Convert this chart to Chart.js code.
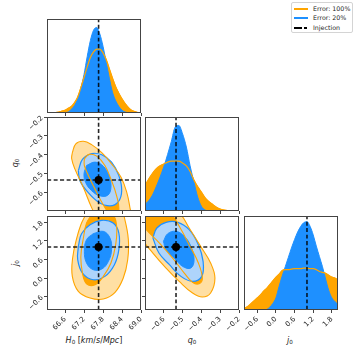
<!DOCTYPE html>
<html>
<head>
<meta charset="utf-8">
<script src="https://cdn.jsdelivr.net/npm/chart.js@4/dist/chart.umd.min.js"></script>
<style>
  body { margin: 0; width: 357px; height: 357px; overflow: hidden; position: relative; background: #fff; font-family: "DejaVu Sans", sans-serif; }
  canvas { position: absolute; }
  .ttl { position: absolute; font-size: 8px; color: #222; white-space: nowrap; transform: translate(-50%, -50%); line-height: 1; }
  .ttl.rot { transform: translate(-50%, -50%) rotate(-90deg); }
  .ttl sub { font-size: 70%; vertical-align: -0.25em; line-height: 0; }
  #legend { position: absolute; left: 291px; top: 2px; width: 62px; height: 31px; border: 1px solid #d4d4d4; border-radius: 2px; background: #fff; box-sizing: border-box; }
  #legend .row { position: absolute; left: 0; height: 9px; font-size: 6.3px; color: #222; white-space: nowrap; }
  #legend .sw { position: absolute; left: 2px; top: 3.5px; width: 14px; height: 2px; }
  #legend .txt { position: absolute; left: 21px; top: 0.5px; line-height: 8px; }
</style>
</head>
<body>
<div id="legend">
  <div class="row" style="top:1.5px"><span class="sw" style="background:#ffa500"></span><span class="txt">Error: 100%</span></div>
  <div class="row" style="top:10.5px"><span class="sw" style="background:#1e90ff"></span><span class="txt">Error: 20%</span></div>
  <div class="row" style="top:20px"><span class="sw" style="width:8px;background:#000"></span><span class="sw" style="left:12px;width:3px;background:#000"></span><span class="txt">Injection</span></div>
</div>
<div class="ttl" style="left:94px;top:341px"><i>H</i><sub>0</sub> [<i>km</i>/<i>s</i>/<i>Mpc</i>]</div>
<div class="ttl" style="left:192px;top:341px"><i>q</i><sub>0</sub></div>
<div class="ttl" style="left:290px;top:341px"><i>j</i><sub>0</sub></div>
<div class="ttl rot" style="left:16px;top:163px"><i>q</i><sub>0</sub></div>
<div class="ttl rot" style="left:16px;top:263px"><i>j</i><sub>0</sub></div>
<script>
// injected values and axis limits
const H0_TRUE = 67.66;
const Q0_TRUE = -0.535;
const J0_TRUE = 1.0;
const H0_LIM = [66.03, 69.0];
const Q0_LIM = [-0.7, -0.2];
const J0_LIM = [-1.03, 2.0];
const H0_TICKS = [66.6, 67.2, 67.8, 68.4, 69.0];
const Q0_TICKS = [-0.6, -0.5, -0.4, -0.3, -0.2];
const J0_TICKS = [-0.6, 0.0, 0.6, 1.2, 1.8];

// 1D marginals (peak-normalised heights)
const H0_X = [66.0, 66.1, 66.2, 66.3, 66.4, 66.5, 66.6, 66.7, 66.8, 66.9, 67.0, 67.1, 67.2, 67.3, 67.4, 67.5, 67.6, 67.7, 67.8, 67.9, 68.0, 68.1, 68.2, 68.3, 68.4, 68.5, 68.6, 68.7, 68.8, 68.9, 69.0];
const H0_ERR100 = [0, 0.001, 0.003, 0.005, 0.01, 0.02, 0.03, 0.05, 0.07, 0.11, 0.17, 0.27, 0.38, 0.49, 0.59, 0.65, 0.68, 0.68, 0.64, 0.57, 0.47, 0.37, 0.28, 0.21, 0.15, 0.10, 0.06, 0.03, 0.015, 0.005, 0];
const H0_ERR20 = [0, 0, 0, 0, 0, 0.002, 0.005, 0.01, 0.04, 0.08, 0.15, 0.26, 0.41, 0.60, 0.77, 0.88, 0.91, 0.84, 0.71, 0.54, 0.37, 0.22, 0.13, 0.07, 0.03, 0.01, 0.004, 0, 0, 0, 0];

const Q0_X = [-0.70, -0.68, -0.66, -0.64, -0.62, -0.60, -0.58, -0.56, -0.54, -0.52, -0.50, -0.48, -0.46, -0.44, -0.42, -0.40, -0.38, -0.36, -0.34, -0.32, -0.30, -0.28, -0.26, -0.24, -0.22, -0.20];
const Q0_ERR100 = [0.27, 0.34, 0.40, 0.45, 0.48, 0.50, 0.52, 0.53, 0.53, 0.53, 0.51, 0.48, 0.42, 0.33, 0.26, 0.20, 0.14, 0.10, 0.07, 0.04, 0.02, 0.01, 0.005, 0.002, 0, 0];
const Q0_ERR20 = [0.07, 0.11, 0.17, 0.26, 0.36, 0.47, 0.60, 0.74, 0.89, 0.91, 0.82, 0.68, 0.48, 0.31, 0.15, 0.05, 0.01, 0, 0, 0, 0, 0, 0, 0, 0, 0];

const J0_X = [-1.0, -0.9, -0.8, -0.7, -0.6, -0.5, -0.4, -0.3, -0.2, -0.1, 0.0, 0.1, 0.2, 0.3, 0.4, 0.5, 0.6, 0.7, 0.8, 0.9, 1.0, 1.1, 1.2, 1.3, 1.4, 1.5, 1.6, 1.7, 1.8, 1.9, 2.0];
const J0_ERR100 = [0.02, 0.04, 0.07, 0.10, 0.13, 0.16, 0.20, 0.23, 0.27, 0.31, 0.35, 0.38, 0.42, 0.43, 0.43, 0.435, 0.44, 0.44, 0.44, 0.445, 0.445, 0.44, 0.44, 0.43, 0.41, 0.40, 0.39, 0.37, 0.35, 0.34, 0.32];
const J0_ERR20 = [0, 0, 0, 0, 0, 0, 0, 0.005, 0.03, 0.07, 0.13, 0.25, 0.36, 0.46, 0.56, 0.66, 0.75, 0.83, 0.89, 0.93, 0.94, 0.89, 0.80, 0.68, 0.57, 0.46, 0.33, 0.21, 0.13, 0.09, 0.06];

// 2D contours (1 and 2 sigma), [x, y] in data units
const H0Q0_ERR100_2S = [[66.83, -0.39], [66.94, -0.343], [67.18, -0.329], [67.44, -0.347], [67.76, -0.39], [68.07, -0.449], [68.37, -0.521], [68.55, -0.601], [68.65, -0.682], [68.72, -0.763], [68.49, -0.816], [68.07, -0.808], [67.65, -0.745], [67.44, -0.682], [67.18, -0.575], [66.91, -0.476], [66.81, -0.422]];
const H0Q0_ERR100_1S = [[67.21, -0.422], [67.36, -0.399], [67.60, -0.408], [67.86, -0.458], [68.07, -0.539], [68.23, -0.619], [68.30, -0.691], [68.20, -0.727], [68.02, -0.718], [67.78, -0.659], [67.55, -0.584], [67.34, -0.512], [67.21, -0.458]];
const H0Q0_ERR20_2S = [[67.02, -0.485], [67.15, -0.426], [67.44, -0.395], [67.76, -0.401], [68.07, -0.44], [68.30, -0.512], [68.39, -0.592], [68.28, -0.652], [68.02, -0.673], [67.65, -0.652], [67.28, -0.592], [67.07, -0.539]];
const H0Q0_ERR20_1S = [[67.28, -0.458], [67.55, -0.44], [67.81, -0.462], [67.99, -0.512], [68.05, -0.575], [67.95, -0.616], [67.70, -0.619], [67.44, -0.592], [67.25, -0.548], [67.20, -0.503]];

const H0J0_ERR100_2S = [[67.23, 1.99], [67.34, 2.31], [67.86, 2.53], [68.34, 2.31], [68.49, 1.88], [68.60, 1.24], [68.58, 0.59], [68.44, 0.0], [68.18, -0.46], [67.81, -0.677], [67.39, -0.645], [67.02, -0.43], [66.83, 0.054], [66.84, 0.645], [66.97, 1.29], [67.10, 1.72]];
const H0J0_ERR100_1S = [[67.44, 2.04], [67.76, 2.2], [68.12, 2.04], [68.23, 1.667], [68.20, 1.075], [68.05, 0.484], [67.81, 0.054], [67.55, -0.215], [67.28, -0.183], [67.15, 0.161], [67.10, 0.70], [67.18, 1.29], [67.28, 1.774]];
const H0J0_ERR20_2S = [[67.02, 1.02], [67.12, 1.43], [67.39, 1.72], [67.76, 1.86], [68.12, 1.774], [68.30, 1.452], [68.30, 0.914], [68.16, 0.43], [67.86, 0.054], [67.49, -0.054], [67.15, 0.161], [67.0, 0.591]];
const H0J0_ERR20_1S = [[67.49, 1.43], [67.81, 1.505], [68.02, 1.29], [68.07, 0.914], [67.97, 0.538], [67.76, 0.29], [67.49, 0.269], [67.28, 0.484], [67.21, 0.86], [67.28, 1.237]];

const Q0J0_ERR100_2S = [[-0.746, 1.88], [-0.675, 2.26], [-0.57, 2.31], [-0.509, 2.04], [-0.465, 1.613], [-0.404, 1.02], [-0.351, 0.484], [-0.328, 0.0], [-0.351, -0.484], [-0.395, -0.613], [-0.447, -0.484], [-0.518, -0.108], [-0.588, 0.323], [-0.658, 0.806], [-0.711, 1.237]];
const Q0J0_ERR100_1S = [[-0.737, 1.935], [-0.64, 2.2], [-0.561, 2.04], [-0.518, 1.667], [-0.465, 1.075], [-0.416, 0.484], [-0.395, 0.0], [-0.412, -0.183], [-0.447, -0.14], [-0.491, 0.161], [-0.553, 0.645], [-0.623, 1.129], [-0.693, 1.56]];
const Q0J0_ERR20_2S = [[-0.658, 1.29], [-0.637, 1.613], [-0.588, 1.796], [-0.526, 1.796], [-0.465, 1.559], [-0.416, 1.075], [-0.391, 0.538], [-0.398, 0.054], [-0.447, -0.108], [-0.509, 0.054], [-0.570, 0.43], [-0.626, 0.806]];
const Q0J0_ERR20_1S = [[-0.602, 1.183], [-0.579, 1.43], [-0.535, 1.505], [-0.491, 1.344], [-0.456, 1.022], [-0.439, 0.591], [-0.456, 0.323], [-0.50, 0.376], [-0.544, 0.645], [-0.588, 0.914]];

const C = {
  orange: "#ffa500",
  orangeLight: "#ffdfa3",
  blue: "#1e90ff",
  blueLight: "#aed4fb",
  inj: "rgba(0,0,0,0.85)",
};

// panel grid
const COLS = [47, 145, 244];
const ROWS = [19, 117, 216];
const SIDE = 94;
const PAD_L = 44, PAD_T = 6, PAD_R = 6, PAD_B = 44;

const fmt = (v) => v.toFixed(1).replace("-", "\u2212");
const pts = (arr) => arr.map(([x, y]) => ({ x, y }));
const curve = (xs, ys) => xs.map((x, i) => ({ x, y: ys[i] }));

const frame = {
  id: "frame",
  afterDraw(chart) {
    const { ctx, chartArea: a } = chart;
    ctx.save();
    ctx.strokeStyle = "#444";
    ctx.lineWidth = 1;
    ctx.strokeRect(a.left + 0.5, a.top + 0.5, a.width - 1, a.height - 1);
    ctx.restore();
  },
};

function axis(lim, ticks, labels, horizontal) {
  return {
    type: "linear",
    min: lim[0],
    max: lim[1],
    afterBuildTicks: (s) => {
      s.ticks = (ticks || []).map((v) => ({ value: v }));
    },
    afterFit: (s) => {
      if (horizontal) {
        s.height = PAD_B;
        s.paddingLeft = 0;
        s.paddingRight = 0;
      } else {
        s.width = PAD_L;
        s.paddingTop = 0;
        s.paddingBottom = 0;
      }
    },
    ticks: {
      display: labels,
      autoSkip: false,
      minRotation: 45,
      maxRotation: 45,
      padding: 2,
      color: "#222",
      font: { family: "DejaVu Sans", size: 7 },
      callback: (v) => fmt(v),
    },
    grid: {
      display: !!ticks,
      drawOnChartArea: false,
      drawTicks: true,
      tickLength: 3,
      tickColor: "#444",
      tickWidth: 1,
    },
    border: { display: false },
  };
}

function stack(layers) {
  return layers.map((d, i) =>
    Object.assign({ tension: 0.4, pointRadius: 0, clip: 0, fill: false, order: layers.length - i }, d)
  );
}

function marginalSets(xs, wide, narrow, xTrue) {
  const smooth = { cubicInterpolationMode: "monotone" };
  return stack([
    Object.assign({ data: curve(xs, wide), fill: "origin", backgroundColor: C.orange, borderColor: C.orange, borderWidth: 1 }, smooth),
    Object.assign({ data: curve(xs, narrow), fill: "origin", backgroundColor: C.blue, borderColor: C.blue, borderWidth: 1 }, smooth),
    Object.assign({ data: curve(xs, wide), borderColor: C.orange, borderWidth: 1.2 }, smooth),
    { data: [{ x: xTrue, y: 0 }, { x: xTrue, y: 1 }], borderColor: C.inj, borderWidth: 1.6, borderDash: [4, 2.5] },
  ]);
}

function contourSets(o2, o1, b2, b1, xTrue, yTrue, xLim, yLim) {
  const loop = (a) => pts(a.concat([a[0]]));
  return stack([
    { data: loop(o2), fill: "shape", backgroundColor: C.orangeLight, borderColor: "transparent" },
    { data: loop(o1), fill: "shape", backgroundColor: C.orange, borderColor: "transparent" },
    { data: loop(b2), fill: "shape", backgroundColor: C.blueLight, borderColor: C.blue, borderWidth: 1.2 },
    { data: loop(b1), fill: "shape", backgroundColor: C.blue, borderColor: C.blue, borderWidth: 1 },
    { data: loop(o2), borderColor: C.orange, borderWidth: 1.1 },
    { data: loop(o1), borderColor: C.orange, borderWidth: 1.1 },
    { data: [{ x: xTrue, y: yLim[0] }, { x: xTrue, y: yLim[1] }], borderColor: C.inj, borderWidth: 1.6, borderDash: [4, 2.5] },
    { data: [{ x: xLim[0], y: yTrue }, { x: xLim[1], y: yTrue }], borderColor: C.inj, borderWidth: 1.6, borderDash: [4, 2.5] },
    { data: [{ x: xTrue, y: yTrue }], showLine: false, pointRadius: 4, pointBackgroundColor: "#000", pointBorderWidth: 0 },
  ]);
}

function panel(col, row, xAxis, yAxis, datasets) {
  const cv = document.createElement("canvas");
  cv.width = SIDE + PAD_L + PAD_R;
  cv.height = SIDE + PAD_T + PAD_B;
  cv.style.left = COLS[col] - PAD_L + "px";
  cv.style.top = ROWS[row] - PAD_T + "px";
  document.body.appendChild(cv);

  return new Chart(cv, {
    type: "line",
    data: { datasets },
    options: {
      responsive: false,
      animation: false,
      events: [],
      layout: { padding: { left: 0, top: PAD_T, right: PAD_R, bottom: 0 } },
      plugins: { legend: { display: false }, tooltip: { enabled: false } },
      scales: { x: xAxis, y: yAxis },
    },
    plugins: [frame],
  });
}

const UNIT = [0, 1];

// diagonal
panel(0, 0, axis(H0_LIM, H0_TICKS, false, true), axis(UNIT, null, false, false),
  marginalSets(H0_X, H0_ERR100, H0_ERR20, H0_TRUE));
panel(1, 1, axis(Q0_LIM, Q0_TICKS, false, true), axis(UNIT, null, false, false),
  marginalSets(Q0_X, Q0_ERR100, Q0_ERR20, Q0_TRUE));
panel(2, 2, axis(J0_LIM, J0_TICKS, true, true), axis(UNIT, null, false, false),
  marginalSets(J0_X, J0_ERR100, J0_ERR20, J0_TRUE));

// off-diagonal
panel(0, 1, axis(H0_LIM, H0_TICKS, false, true), axis(Q0_LIM, Q0_TICKS, true, false),
  contourSets(H0Q0_ERR100_2S, H0Q0_ERR100_1S, H0Q0_ERR20_2S, H0Q0_ERR20_1S, H0_TRUE, Q0_TRUE, H0_LIM, Q0_LIM));
panel(0, 2, axis(H0_LIM, H0_TICKS, true, true), axis(J0_LIM, J0_TICKS, true, false),
  contourSets(H0J0_ERR100_2S, H0J0_ERR100_1S, H0J0_ERR20_2S, H0J0_ERR20_1S, H0_TRUE, J0_TRUE, H0_LIM, J0_LIM));
panel(1, 2, axis(Q0_LIM, Q0_TICKS, true, true), axis(J0_LIM, J0_TICKS, false, false),
  contourSets(Q0J0_ERR100_2S, Q0J0_ERR100_1S, Q0J0_ERR20_2S, Q0J0_ERR20_1S, Q0_TRUE, J0_TRUE, Q0_LIM, J0_LIM));
</script>
</body>
</html>
